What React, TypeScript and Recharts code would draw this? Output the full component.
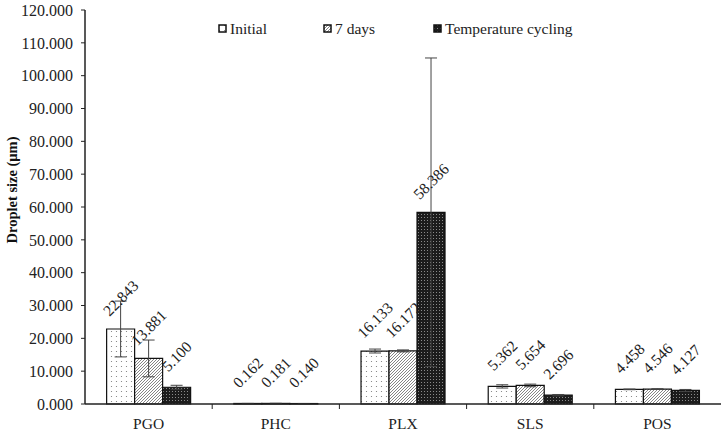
import React from 'react';
import { BarChart, Bar, XAxis, YAxis, ErrorBar, LabelList } from 'recharts';

const categories = ['PGO', 'PHC', 'PLX', 'SLS', 'POS'];
const initial = [22.843, 0.162, 16.133, 5.362, 4.458];
const sevenDays = [13.881, 0.181, 16.172, 5.654, 4.546];
const tempCycling = [5.1, 0.14, 58.386, 2.696, 4.127];
const initialErr = [8.5, 0.02, 0.6, 0.5, 0.1];
const sevenDaysErr = [5.6, 0.02, 0.3, 0.4, 0.1];
const tempCyclingErr = [0.6, 0.02, 47.0, 0.2, 0.3];
const yTicks = [0, 10, 20, 30, 40, 50, 60, 70, 80, 90, 100, 110, 120];

const data = categories.map((c, i) => ({
  name: c,
  initial: initial[i],
  sevenDays: sevenDays[i],
  tempCycling: tempCycling[i],
  initialErr: initialErr[i],
  sevenDaysErr: sevenDaysErr[i],
  tempCyclingErr: tempCyclingErr[i],
}));

const FONT = '"Liberation Serif", "Times New Roman", serif';
const W = 722;
const H = 433;
const MARGIN = { top: 10, right: 1, bottom: 0, left: 0 };
const X_AXIS_H = 29;
const Y_AXIS_W = 85;
const BAND = (W - MARGIN.left - MARGIN.right - Y_AXIS_W) / categories.length;

const renderLabel = (props: any) => {
  const { x, y, width, value } = props;
  const cx = Number(x) + Number(width) / 2;
  const cy = Number(y) - 31;
  return (
    <text
      x={cx}
      y={cy}
      textAnchor="middle"
      dominantBaseline="central"
      transform={`rotate(-45, ${cx}, ${cy})`}
      fontFamily={FONT}
      fontSize={15.5}
      fill="#222"
    >
      {Number(value).toFixed(3)}
    </text>
  );
};

const XTick = (props: any) => {
  const { x, y, payload, index } = props;
  return (
    <g>
      <text x={x} y={y + 19} textAnchor="middle" dominantBaseline="central" fontFamily={FONT} fontSize={15.5} fill="#222">
        {payload.value}
      </text>
      {index < categories.length - 1 && (
        <line x1={x + BAND / 2} x2={x + BAND / 2} y1={y} y2={y + 5} stroke="#222" strokeWidth={1} />
      )}
    </g>
  );
};

const legendItems = [
  { label: 'Initial', fill: 'url(#patDots)', left: 218 },
  { label: '7 days', fill: 'url(#patHatch)', left: 323 },
  { label: 'Temperature cycling', fill: 'url(#patCheck)', left: 433 },
];

const LegendOverlay = () => (
  <div style={{ position: 'absolute', left: 0, top: 20, width: W, height: 20 }}>
    {legendItems.map((it) => (
      <div
        key={it.label}
        style={{
          position: 'absolute',
          left: it.left,
          top: 0,
          display: 'flex',
          alignItems: 'center',
          fontFamily: FONT,
          fontSize: 15.5,
          lineHeight: '18px',
          color: '#222',
          whiteSpace: 'nowrap',
        }}
      >
        <svg width={10} height={10} style={{ marginRight: 2 }}>
          <rect x={1} y={1} width={7} height={7} fill={it.fill} stroke="#111" strokeWidth={1.5} />
        </svg>
        <span>{it.label}</span>
      </div>
    ))}
  </div>
);

const YLabel = () => (
  <text
    x={12}
    y={190}
    textAnchor="middle"
    dominantBaseline="central"
    transform="rotate(-90, 12, 190)"
    fontFamily={FONT}
    fontSize={14.5}
    fontWeight="bold"
    fill="#111"
  >
    Droplet size (μm)
  </text>
);

export default function App() {
  return (
    <div style={{ position: 'absolute', left: 0, top: 0, width: W, height: H, background: '#fff' }}>
      <BarChart width={W} height={H} data={data} margin={MARGIN} barCategoryGap="17%" barGap={0}>
        <defs>
          <pattern id="patDots" width={5} height={5} patternUnits="userSpaceOnUse">
            <rect width={5} height={5} fill="#fff" />
            <circle cx={1.5} cy={1.5} r={0.6} fill="#777" />
          </pattern>
          <pattern id="patHatch" width={3} height={3} patternUnits="userSpaceOnUse">
            <rect width={3} height={3} fill="#fff" />
            <path d="M0,3 L3,0 M-1,1 L1,-1 M2,4 L4,2" stroke="#777" strokeWidth={0.9} />
          </pattern>
          <pattern id="patCheck" width={3} height={3} patternUnits="userSpaceOnUse">
            <rect width={3} height={3} fill="#1c1c1c" />
            <rect x={1} y={1} width={1} height={1} fill="#8a8a8a" />
          </pattern>
        </defs>
        <XAxis
          dataKey="name"
          tickLine={false}
          tickSize={0}
          tickMargin={0}
          axisLine={{ stroke: '#222', strokeWidth: 1.5 }}
          tick={<XTick />}
          interval={0}
          height={X_AXIS_H}
        />
        <XAxis
          xAxisId="top"
          dataKey="name"
          orientation="top"
          tick={false}
          tickLine={false}
          height={0}
          axisLine={{ stroke: '#333', strokeWidth: 1.2 }}
        />
        <YAxis
          width={Y_AXIS_W}
          domain={[0, 120]}
          ticks={yTicks}
          interval={0}
          tickFormatter={(v: number) => v.toFixed(3)}
          tick={{ fontFamily: FONT, fontSize: 16, fill: '#222' }}
          tickSize={4}
          tickMargin={8}
          tickLine={{ stroke: '#222' }}
          axisLine={{ stroke: '#222', strokeWidth: 1.5 }}
          label={<YLabel />}
        />
        <YAxis
          yAxisId="right"
          orientation="right"
          width={0}
          domain={[0, 120]}
          tick={false}
          tickLine={false}
          axisLine={{ stroke: '#333', strokeWidth: 1.2 }}
        />
        <Bar dataKey="initial" name="Initial" fill="url(#patDots)" stroke="#111" strokeWidth={1.2} isAnimationActive={false}>
          <ErrorBar dataKey="initialErr" width={6} stroke="#444" strokeWidth={1} direction="y" />
          <LabelList dataKey="initial" content={renderLabel} />
        </Bar>
        <Bar dataKey="sevenDays" name="7 days" fill="url(#patHatch)" stroke="#111" strokeWidth={1.2} isAnimationActive={false}>
          <ErrorBar dataKey="sevenDaysErr" width={6} stroke="#444" strokeWidth={1} direction="y" />
          <LabelList dataKey="sevenDays" content={renderLabel} />
        </Bar>
        <Bar dataKey="tempCycling" name="Temperature cycling" fill="url(#patCheck)" stroke="#111" strokeWidth={1.2} isAnimationActive={false}>
          <ErrorBar dataKey="tempCyclingErr" width={6} stroke="#444" strokeWidth={1} direction="y" />
          <LabelList dataKey="tempCycling" content={renderLabel} />
        </Bar>
      </BarChart>
      <LegendOverlay />
    </div>
  );
}
